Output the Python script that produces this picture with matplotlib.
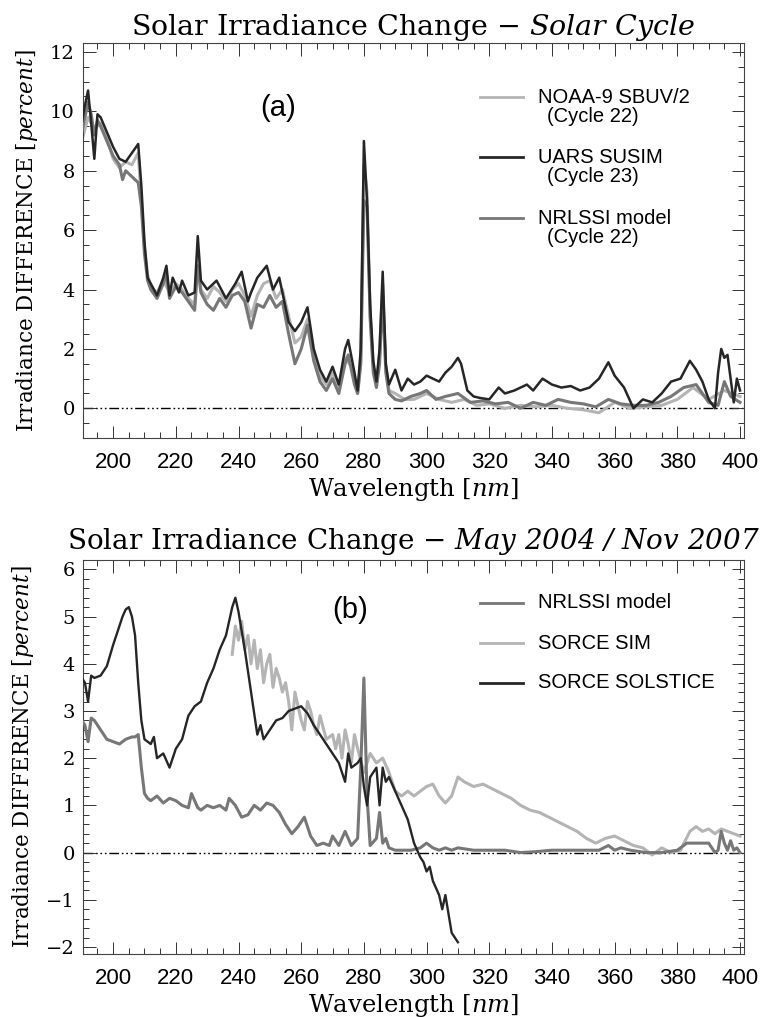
import matplotlib
matplotlib.use("Agg")
import matplotlib.pyplot as plt
from matplotlib.ticker import MultipleLocator

plt.rcParams['font.family'] = ['DejaVu Serif']
plt.rcParams['mathtext.fontset'] = 'custom'
plt.rcParams['mathtext.rm'] = 'DejaVu Serif'
plt.rcParams['mathtext.it'] = 'DejaVu Serif:italic'
# sf slot used for italic text that contains digits
plt.rcParams['mathtext.sf'] = 'DejaVu Serif:italic'

# ---- panel (a): solar cycle ----
wl_noaa = [190, 192, 194, 196, 198, 200, 202, 204, 206, 208, 209, 210, 211, 212, 214, 216, 218, 220, 222, 224,
           226, 227, 228, 230, 232, 234, 236, 238, 240, 242, 244, 246, 248, 250, 252, 254, 256, 258, 260, 262,
           264, 266, 268, 270, 272, 274, 276, 278, 279, 280, 281, 282, 283, 284, 285, 286, 287, 288, 290, 293,
           296, 300, 304, 308, 312, 316, 320, 325, 330, 335, 340, 345, 350, 355, 360, 365, 370, 375, 380, 385,
           390, 395, 400]
noaa = [9.0, 9.8, 9.4, 9.6, 9.1, 8.4, 8.1, 8.3, 8.2, 8.6, 7.0, 5.4, 4.5, 4.1, 3.9, 4.3, 3.9, 4.2, 4.0, 3.7,
        3.5, 5.2, 4.0, 3.7, 4.1, 3.9, 3.6, 4.0, 4.2, 3.8, 3.1, 3.8, 4.2, 4.3, 3.7, 4.0, 3.1, 2.2, 2.4, 3.0,
        1.8, 1.1, 0.8, 1.2, 0.7, 1.7, 1.4, 0.5, 1.6, 8.2, 7.3, 3.2, 1.4, 0.8, 1.8, 4.2, 1.3, 0.6, 0.5, 0.3,
        0.3, 0.5, 0.3, 0.2, 0.3, 0.1, 0.15, 0.0, 0.1, 0.05, 0.1, 0.0, -0.05, -0.15, 0.2, 0.0, 0.05, 0.1, 0.3, 0.7,
        0.3, 0.6, 0.4]

wl_susim = [190, 191, 192, 193, 194, 195, 196, 198, 200, 202, 204, 206, 208, 209, 210, 211, 212, 214, 216, 217,
            218, 219, 221, 222, 224, 226, 227, 228, 230, 233, 236, 239, 241, 243, 244, 246, 249, 251, 253, 255,
            256, 258, 260, 262, 264, 266, 268, 270, 272, 274, 275, 277, 278, 279, 280, 281, 282, 283, 284, 285,
            286, 287, 288, 290, 292, 294, 296, 298, 300, 302, 304, 306, 308, 310, 311, 313, 315, 317, 320, 323,
            325, 328, 330, 332, 334, 337, 340, 343, 346, 349, 352, 355, 358, 360, 363, 366, 369, 372, 375, 378,
            381, 384, 386, 388, 390, 392, 393, 394, 395, 396, 397, 398, 399, 400]
susim = [9.6, 10.2, 10.7, 9.6, 8.4, 9.9, 9.8, 9.3, 8.8, 8.4, 8.3, 8.6, 8.9, 7.5, 5.6, 4.4, 4.2, 3.8, 4.4, 4.8,
         3.8, 4.4, 3.9, 4.3, 3.8, 3.9, 5.8, 4.3, 4.0, 4.3, 3.7, 4.2, 4.6, 3.6, 3.9, 4.4, 4.8, 4.0, 4.4, 3.4,
         2.9, 2.6, 2.9, 3.4, 2.0, 1.3, 0.9, 1.4, 0.8, 2.0, 2.3, 1.2, 0.6, 2.0, 9.0, 7.0, 3.5, 1.6, 0.9, 2.0,
         4.6, 1.5, 0.8, 1.3, 0.6, 1.0, 0.8, 0.9, 1.1, 1.0, 0.9, 1.2, 1.4, 1.7, 1.5, 0.6, 0.4, 0.35, 0.3, 0.7,
         0.5, 0.6, 0.7, 0.8, 0.6, 1.0, 0.8, 0.7, 0.75, 0.6, 0.7, 1.0, 1.55, 1.1, 0.7, 0.0, 0.3, 0.2, 0.5, 0.9,
         1.0, 1.6, 1.3, 0.9, 0.3, 0.0, 1.2, 2.0, 1.7, 1.8, 1.0, 0.2, 1.0, 0.6]

wl_nrl_a = [190, 192, 193, 194, 195, 196, 198, 200, 202, 203, 204, 206, 208, 209, 210, 211, 212, 214, 216, 217,
            218, 220, 222, 224, 226, 227, 228, 230, 232, 234, 236, 238, 240, 242, 244, 246, 248, 250, 252, 254,
            256, 258, 260, 262, 264, 266, 268, 270, 272, 274, 275, 277, 278, 279, 280, 281, 282, 283, 284, 285,
            286, 287, 288, 290, 292, 295, 298, 300, 303, 306, 310, 314, 318, 322, 326, 330, 334, 338, 342, 346,
            350, 354, 358, 362, 366, 370, 374, 378, 382, 386, 390, 393, 395, 397, 400]
nrl_a = [9.3, 10.3, 9.9, 9.2, 9.7, 9.5, 9.0, 8.5, 8.2, 7.7, 8.0, 7.8, 7.6, 6.8, 5.2, 4.3, 4.0, 3.7, 4.2, 4.5,
         3.7, 4.1, 3.9, 3.6, 3.3, 4.8, 3.9, 3.5, 3.3, 3.7, 3.4, 3.8, 3.9, 3.6, 2.7, 3.5, 3.4, 3.8, 3.4, 3.6,
         2.5, 1.5, 2.0, 2.8, 1.6, 0.9, 0.6, 1.0, 0.5, 1.5, 1.8, 0.8, 0.5, 1.5, 7.0, 6.8, 3.0, 1.2, 0.7, 1.5,
         3.8, 1.2, 0.5, 0.3, 0.25, 0.4, 0.5, 0.6, 0.3, 0.4, 0.5, 0.2, 0.25, 0.15, 0.2, 0.0, 0.2, 0.1, 0.3, 0.2,
         0.15, 0.05, 0.3, 0.15, 0.1, 0.1, 0.2, 0.4, 0.7, 0.8, 0.2, 0.1, 0.9, 0.4, 0.2]

# ---- panel (b): May 2004 / Nov 2007 ----
wl_nrl_b = [190, 191, 192, 193, 194, 196, 198, 200, 202, 204, 206, 207, 208, 209, 210, 211, 212, 214, 216, 218,
            220, 222, 224, 225, 227, 228, 230, 232, 234, 236, 237, 239, 241, 243, 245, 247, 249, 251, 253, 255,
            257, 259, 261, 263, 265, 267, 269, 270, 272, 274, 276, 278, 279, 280, 281, 282, 284, 285, 286, 287,
            288, 290, 292, 295, 298, 300, 302, 304, 306, 308, 310, 315, 320, 325, 330, 335, 340, 345, 350, 355,
            358, 360, 362, 365, 370, 375, 380, 383, 386, 390, 392, 393, 394, 395, 396, 397, 398, 399, 400]
nrl_b = [2.8, 2.7, 2.35, 2.85, 2.8, 2.6, 2.4, 2.35, 2.3, 2.4, 2.45, 2.45, 2.5, 1.8, 1.25, 1.15, 1.1, 1.2, 1.05, 1.15,
         1.1, 1.0, 0.95, 1.25, 0.95, 0.9, 1.0, 0.95, 1.0, 0.9, 1.15, 1.0, 0.75, 0.8, 1.0, 0.9, 1.05, 1.0, 0.85, 0.6,
         0.4, 0.55, 0.75, 0.35, 0.15, 0.2, 0.15, 0.35, 0.15, 0.45, 0.15, 0.3, 1.8, 3.7, 1.2, 0.15, 0.3, 0.85, 0.2, 0.3,
         0.1, 0.05, 0.05, 0.05, 0.1, 0.2, 0.1, 0.05, 0.1, 0.05, 0.1, 0.05, 0.05, 0.05, 0.0, 0.02, 0.05, 0.05, 0.05, 0.05,
         0.15, 0.05, 0.1, 0.05, 0.0, 0.0, 0.05, 0.2, 0.2, 0.2, 0.0, 0.05, 0.45, 0.2, 0.05, 0.25, 0.05, 0.1, 0.0]

wl_sim = [238, 239, 240, 241, 242, 243, 244, 245, 246, 247, 248, 249, 250, 251, 252, 253, 254, 255, 256, 257,
          258, 259, 260, 261, 262, 263, 264, 265, 266, 268, 270, 271, 272, 273, 274, 275, 276, 277, 278, 280,
          282, 284, 286, 288, 290, 292, 294, 296, 298, 300, 302, 304, 306, 308, 310, 312, 315, 318, 321, 324,
          327, 330, 333, 336, 339, 342, 345, 348, 351, 354, 357, 360, 363, 366, 369, 372, 375, 378, 381, 384,
          386, 388, 390, 392, 394, 396, 398, 400]
sim = [4.2, 4.8, 4.5, 4.9, 4.3, 4.6, 4.0, 4.5, 3.9, 4.3, 3.6, 4.0, 4.2, 3.5, 3.9, 3.7, 3.4, 3.6, 3.2, 2.6,
       3.4, 3.1, 2.8, 2.6, 3.2, 3.0, 2.7, 2.5, 2.9, 2.4, 2.5, 2.2, 2.5, 2.0, 2.6, 2.3, 1.9, 2.5, 2.2, 1.7,
       2.1, 1.9, 2.0, 1.7, 1.3, 1.2, 1.3, 1.2, 1.3, 1.4, 1.45, 1.2, 1.05, 1.2, 1.6, 1.5, 1.4, 1.45, 1.35, 1.25,
       1.15, 1.0, 0.9, 0.85, 0.75, 0.65, 0.55, 0.45, 0.3, 0.2, 0.3, 0.35, 0.25, 0.15, 0.1, -0.05, 0.1, 0.0, 0.05, 0.45,
       0.55, 0.45, 0.5, 0.4, 0.5, 0.45, 0.4, 0.35]

wl_solstice = [190, 191, 192, 193, 194, 196, 198, 200, 202, 203, 204, 205, 206, 207, 208, 209, 210, 212, 213, 214,
               216, 218, 220, 222, 224, 226, 228, 230, 232, 234, 236, 238, 239, 240, 241, 242, 244, 246, 247, 248,
               249, 250, 252, 254, 256, 258, 260, 262, 264, 266, 268, 270, 272, 274, 275, 276, 278, 279, 280, 281,
               282, 284, 285, 286, 287, 288, 290, 292, 294, 296, 298, 299, 300, 301, 302, 304, 305, 306, 307, 308,
               309, 310]
solstice = [3.7, 3.6, 3.2, 3.75, 3.7, 3.75, 3.95, 4.4, 4.8, 5.0, 5.15, 5.2, 5.0, 4.6, 3.6, 2.8, 2.4, 2.3, 2.45, 2.0,
            2.1, 1.8, 2.2, 2.4, 2.9, 3.1, 3.2, 3.6, 3.9, 4.3, 4.6, 5.2, 5.4, 5.1, 4.7, 4.3, 3.4, 2.5, 2.7, 2.4,
            2.5, 2.6, 2.8, 2.85, 3.0, 3.05, 3.1, 2.95, 2.7, 2.5, 2.3, 2.1, 1.9, 1.5, 2.1, 1.8, 1.9, 2.0, 1.4, 1.0,
            1.6, 1.8, 1.0, 1.8, 1.5, 1.6, 1.3, 1.0, 0.7, 0.2, -0.1, -0.2, -0.4, -0.3, -0.6, -0.9, -1.2, -0.9, -1.3, -1.7,
            -1.8, -1.9]

c_light = '#b4b4b4'
c_mid = '#777777'
c_dark = '#262626'
zero_style = (0, (7, 2, 1.2, 2, 1.2, 2, 1.2, 2))

fig = plt.figure(figsize=(7.79, 10.17), dpi=100)
ax1 = fig.add_axes([0.1066, 0.5693, 0.8486, 0.3884])
ax2 = fig.add_axes([0.1066, 0.0619, 0.8486, 0.3875])


def style_axes(ax, ylim, ymajor, yminor):
    ax.set_xlim(190.4, 401.3)
    ax.set_ylim(*ylim)
    ax.xaxis.set_major_locator(MultipleLocator(20))
    ax.xaxis.set_minor_locator(MultipleLocator(5))
    ax.yaxis.set_major_locator(MultipleLocator(ymajor))
    ax.yaxis.set_minor_locator(MultipleLocator(yminor))
    ax.tick_params(which='both', direction='in', top=True, right=True, width=0.7, colors='#333333')
    ax.tick_params(which='major', length=9)
    ax.tick_params(which='minor', length=4)
    ax.tick_params(axis='x', pad=10, labelsize=16, labelcolor='black')
    ax.tick_params(axis='y', pad=6, labelsize=14, labelcolor='black')
    for lab in ax.get_xticklabels():
        lab.set_family('Liberation Sans')
    for sp in ax.spines.values():
        sp.set_linewidth(0.8)
        sp.set_color('#444444')
    ax.axhline(0, color='black', lw=1.0, linestyle=zero_style, zorder=1)
    ax.set_xlabel(r'Wavelength [$\mathit{nm}$]', fontsize=17.5, labelpad=2)
    ax.set_ylabel(r'Irradiance DIFFERENCE [$\mathit{percent}$]', fontsize=15.5, labelpad=7)


def legend_row(ax, y, color, lines):
    # hand drawn legend: short sample line and one or two text lines
    ax.plot([0.600, 0.666], [y, y], color=color, lw=2.0, transform=ax.transAxes, clip_on=False)
    ax.text(0.688, y, lines[0], transform=ax.transAxes, fontsize=14.5, va='center',
            family='Liberation Sans')
    if len(lines) > 1:
        ax.text(0.702, y - 0.05, lines[1], transform=ax.transAxes, fontsize=14.5, va='center',
                family='Liberation Sans')


# panel (a)
ax1.plot(wl_noaa, noaa, color=c_light, lw=2.2, zorder=2)
ax1.plot(wl_nrl_a, nrl_a, color=c_mid, lw=2.2, zorder=3)
ax1.plot(wl_susim, susim, color=c_dark, lw=1.8, zorder=4)
style_axes(ax1, (-1.0, 12.3), 2, 0.5)
ax1.set_title(r'Solar Irradiance Change $-$ $\mathsf{Solar\ Cycle}$', fontsize=20.5, pad=6)
ax1.text(0.295, 0.835, '(a)', transform=ax1.transAxes, fontsize=21, ha='center', va='center',
         family='Liberation Sans')
legend_row(ax1, 0.863, c_light, ['NOAA-9 SBUV/2', '(Cycle 22)'])
legend_row(ax1, 0.711, c_dark, ['UARS SUSIM', '(Cycle 23)'])
legend_row(ax1, 0.557, c_mid, ['NRLSSI model', '(Cycle 22)'])

# panel (b)
ax2.plot(wl_sim, sim, color=c_light, lw=2.2, zorder=2)
ax2.plot(wl_nrl_b, nrl_b, color=c_mid, lw=2.2, zorder=3)
ax2.plot(wl_solstice, solstice, color=c_dark, lw=1.7, zorder=4)
style_axes(ax2, (-2.15, 6.2), 1, 0.2)
ax2.set_title(r'Solar Irradiance Change $-$ $\mathsf{May\ 2004\ /\ Nov\ 2007}$', fontsize=20, pad=8)
ax2.text(0.404, 0.873, '(b)', transform=ax2.transAxes, fontsize=21, ha='center', va='center',
         family='Liberation Sans')
legend_row(ax2, 0.891, c_mid, ['NRLSSI model'])
legend_row(ax2, 0.789, c_light, ['SORCE SIM'])
legend_row(ax2, 0.688, c_dark, ['SORCE SOLSTICE'])

fig.savefig('out.png', dpi=100)
plt.close(fig)
